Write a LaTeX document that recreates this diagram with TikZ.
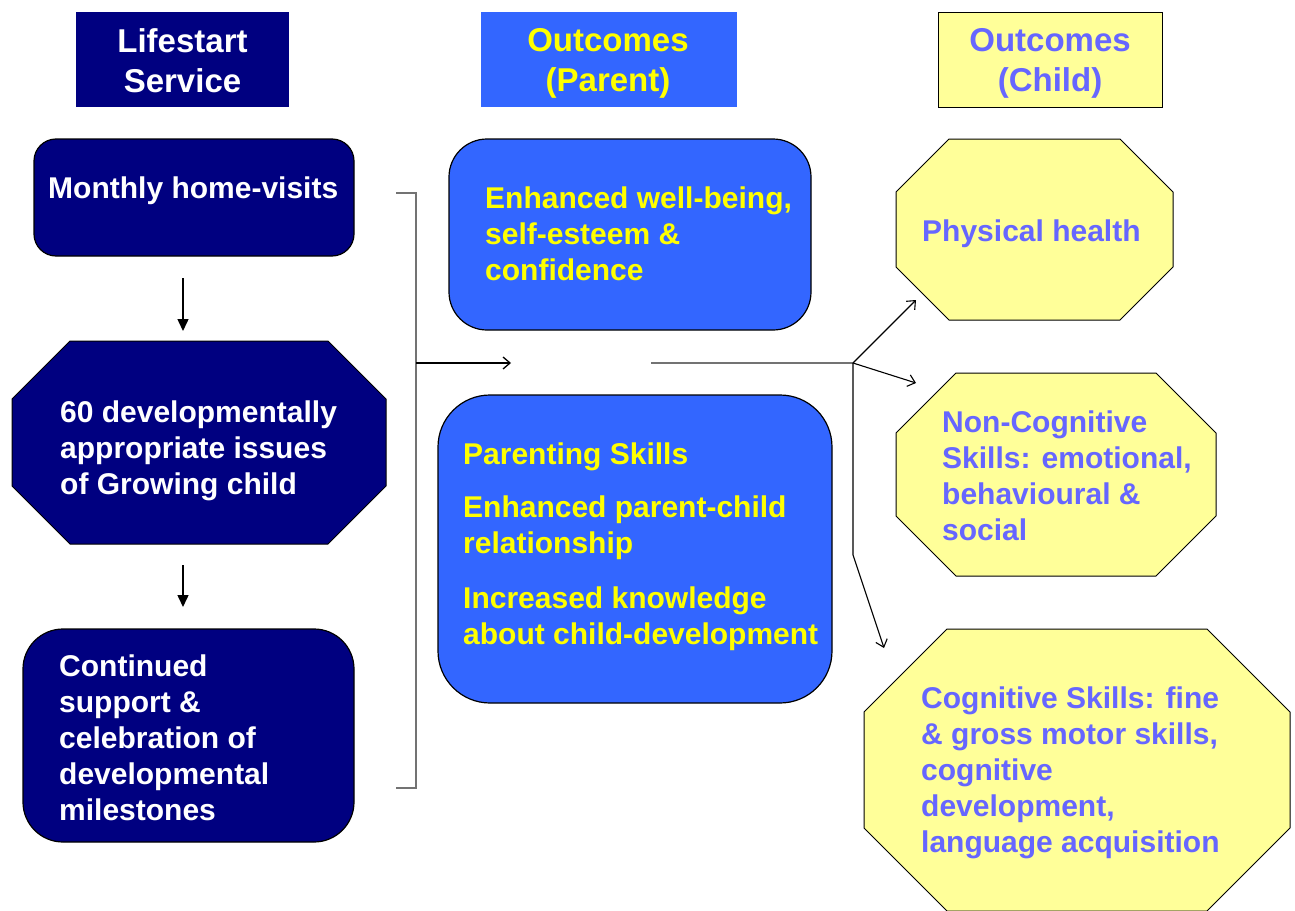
\documentclass[tikz,border=0pt]{standalone}
\usepackage{fontspec}
\setmainfont{Liberation Sans}
\usetikzlibrary{arrows.meta,calc}

\definecolor{navy}{HTML}{000080}
\definecolor{parentblue}{HTML}{3366FF}
\definecolor{textyellow}{HTML}{FFFF00}
\definecolor{childfill}{HTML}{FFFF99}
\definecolor{childtext}{HTML}{6666FF}

\newcommand\bodyfont{\fontsize{30}{36}\selectfont\bfseries}
\newcommand\headfont{\fontsize{33}{40}\selectfont\bfseries}

% octagon drawn around the frame node #1 with corner cut #2
\newcommand\octagon[3]{%
  \draw[#3] ($(#1.north west)+(#2,0)$) -- ($(#1.north east)+(-#2,0)$)
    -- ($(#1.north east)+(0,#2)$) -- ($(#1.south east)+(0,-#2)$)
    -- ($(#1.south east)+(-#2,0)$) -- ($(#1.south west)+(#2,0)$)
    -- ($(#1.south west)+(0,-#2)$) -- ($(#1.north west)+(0,#2)$) -- cycle;}

\begin{document}
\begin{tikzpicture}[x=1pt,y=-1pt,
  frame/.style={inner sep=0pt, outer sep=0pt, anchor=north west},
  headbox/.style={frame},
  roundbox/.style={frame, draw=black, line width=1.2pt},
  headtext/.style={font=\headfont, align=center, inner sep=0pt, anchor=north},
  bodytext/.style={font=\bodyfont, align=left, inner sep=0pt, anchor=north west},
  downarrow/.style={line width=1.5pt, -{Triangle[length=12pt,width=11pt]}},
  openarrow/.style={line width=1.3pt, -{Straight Barb[length=7pt,width=12pt]}},
  bracket/.style={line width=1.5pt, draw=black!55},
  linkline/.style={line width=1.2pt, draw=black!55}]
\useasboundingbox (0,0) rectangle (1295,910);

% column headers
\node[headbox, fill=navy, minimum width=213, minimum height=95] (hserv) at (76,12) {};
\node[headbox, fill=parentblue, minimum width=256, minimum height=95] (hpar) at (481,12) {};
\node[headbox, fill=childfill, draw=black, line width=1pt, minimum width=224, minimum height=95] (hchild) at (938,12) {};
\node[headtext, text=white] (hservt) at (182.5,28.5) {Lifestart\\Service};
\node[headtext, text=textyellow] (hpart) at (608,28.5) {Outcomes\\(Parent)};
\node[headtext, text=childtext] (hchildt) at (1050,28.5) {Outcomes\\(Child)};

% Lifestart service column
\node[roundbox, fill=navy, rounded corners=22pt, minimum width=320, minimum height=117] (mbox) at (34,139) {};
\node[frame, minimum width=374, minimum height=203] (dev) at (12,341) {};
\octagon{dev}{58}{draw=black, line width=1pt, fill=navy}
\node[roundbox, fill=navy, rounded corners=40pt, minimum width=331, minimum height=213] (cont) at (23,629) {};

\node[bodytext, text=white] (mboxt) at (48,176.5) {Monthly home-visits};
\node[bodytext, text=white] (devt) at (60,400.5) {60 developmentally\\appropriate issues\\of Growing child};
\node[bodytext, text=white] (contt) at (59,654.5) {Continued\\support \&\\celebration of\\developmental\\milestones};

% parent outcomes
\node[roundbox, fill=parentblue, rounded corners=38pt, minimum width=362, minimum height=191] (par1) at (449,139) {};
\node[roundbox, fill=parentblue, rounded corners=52pt, minimum width=394, minimum height=308] (par2) at (438,395) {};
\node[bodytext, text=textyellow] (par1t) at (485,186.5) {Enhanced well-being,\\self-esteem \&\\confidence};
\node[bodytext, text=textyellow] (par2t) at (463,442.5) {Parenting Skills\\[17pt]Enhanced parent-child\\relationship\\[19pt]Increased knowledge\\about child-development};

% child outcomes
\node[frame, minimum width=277, minimum height=181] (phys) at (896,139) {};
\octagon{phys}{53}{draw=black, line width=1pt, fill=childfill}
\node[frame, minimum width=320, minimum height=203] (noncog) at (896,373) {};
\octagon{noncog}{60}{draw=black, line width=1pt, fill=childfill}
\node[frame, minimum width=426, minimum height=282] (cog) at (864,629) {};
\octagon{cog}{83}{draw=black, line width=1pt, fill=childfill}

\node[bodytext, text=childtext] (physt) at (922,219.5) {Physical health};
\node[bodytext, text=childtext] (noncogt) at (942,411) {Non-Cognitive\\Skills: emotional,\\behavioural \&\\social};
\node[bodytext, text=childtext] (cogt) at (921,686.5) {Cognitive Skills: fine\\\& gross motor skills,\\cognitive\\development,\\language acquisition};

% service sequence
\coordinate (colA) at (183,0);
\draw[downarrow, shorten <=22pt, shorten >=10pt] (mbox.south -| colA) -- (dev.north -| colA);
\draw[downarrow, shorten <=21pt, shorten >=22pt] (dev.south -| colA) -- (cont.north -| colA);

% bracket gathering the service and leading to the outcomes
\coordinate (brtopl) at (396,193);
\coordinate (brtop) at (416,193);
\coordinate (brbot) at (416,788);
\coordinate (brbotl) at (396,788);
\coordinate (brmid) at (416,363);
\coordinate (tipmid) at (511,363);
\draw[bracket] (brtopl) -- (brtop) -- (brbot) -- (brbotl);
\draw[openarrow] (brmid) -- (tipmid);

% fan out to the child outcomes
\coordinate (fanstart) at (651,363);
\coordinate (fan) at (853,363);
\coordinate (tipphys) at (916,300);
\coordinate (tipnon) at (916,383);
\coordinate (bend) at (853,555);
\coordinate (tipcog) at (884,648);
\draw[linkline] (fanstart) -- (fan);
\draw[openarrow, line width=1.1pt] (fan) -- (tipphys);
\draw[openarrow, line width=1.1pt] (fan) -- (tipnon);
\draw[openarrow, line width=1.1pt] (fan) -- (bend) -- (tipcog);
\end{tikzpicture}
\end{document}
